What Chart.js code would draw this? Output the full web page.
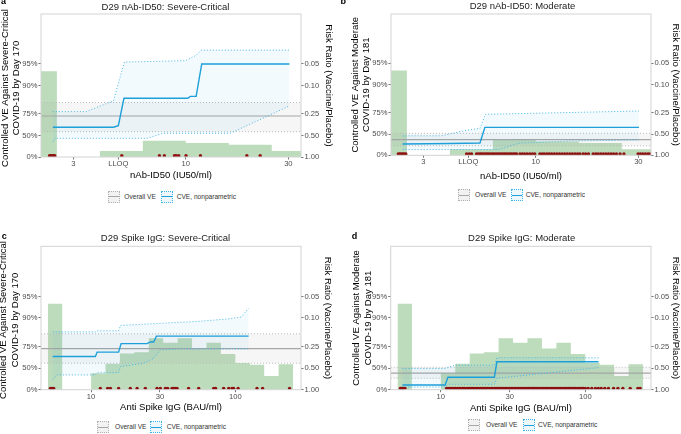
<!DOCTYPE html>
<html>
<head>
<meta charset="utf-8">
<script src="https://cdn.jsdelivr.net/npm/chart.js"></script>
<style>
html,body{margin:0;padding:0;background:#fff;}
body{width:681px;height:434px;position:relative;overflow:hidden;font-family:"Liberation Sans",Arial,sans-serif;}
canvas{position:absolute;}
.letter{position:absolute;font-weight:bold;font-size:9px;line-height:9px;color:#000;}
.ptitle{position:absolute;width:300px;text-align:center;font-size:9.5px;line-height:11px;color:#1a1a1a;}
.key{position:absolute;width:12px;height:12px;box-sizing:border-box;border:1px dotted;}
.key i{position:absolute;left:0;right:0;top:4.5px;height:1.2px;}
.ltxt{position:absolute;font-size:6.6px;line-height:8px;color:#333;white-space:nowrap;}
</style>
</head>
<body>
<script>
// ---------------- data ----------------
// y axis: VE (%) shown on a -log(1-VE) scale; right axis: risk ratio
const veTickValues = [0, 50, 75, 90, 95];
const veTickLabels = ['0%', '50%', '75%', '90%', '95%'];
const rrTickValues = [1, 0.5, 0.25, 0.1, 0.05];
const rrTickLabels = ['1.00', '0.50', '0.25', '0.10', '0.05'];
const veAxisTop = 99;            // upper axis limit (VE 99% = RR 0.01)

// x axes (log10 marker values)
const id50TickValues = [3, 4.8497, 10, 30];
const id50TickLabels = ['3', 'LLOQ', '10', '30'];
const id50AxisLog10 = [0.326, 1.536];
const iggTickValues = [10, 30, 100];
const iggTickLabels = ['10', '30', '100'];
const iggAxisLog10 = [0.653, 2.455];

// marker histograms (vaccine recipients), bin edges in log10 units, relative frequency
const id50HistEdges = [0.2, 0.4, 0.6, 0.8, 1.0, 1.2, 1.4, 1.6];
const id50HistFreq  = [0.611, 0, 0.043, 0.115, 0.100, 0.088, 0.043];
const iggHistEdges  = [0.7, 0.8, 0.9, 1.0, 1.1, 1.2, 1.3, 1.4, 1.5, 1.6, 1.7, 1.8, 1.9, 2.0, 2.1, 2.2, 2.3, 2.4];
const iggHistFreq   = [0.152, 0, 0, 0.029, 0.046, 0.064, 0.066, 0.091, 0.083, 0.091, 0.073, 0.083, 0.063, 0.047, 0.044, 0.024, 0.045];

// panel a: D29 nAb-ID50, Severe-Critical
const aCveX = [0.381, 0.663, 0.686, 0.712, 1.009, 1.021, 1.048, 1.074, 1.482];
const aCveVE = [61.6, 61.6, 63.5, 84.9, 84.9, 85.8, 85.8, 95.0, 95.0];
const aUpX = [0.381, 0.536, 0.614, 0.663, 0.714, 0.997, 1.047, 1.071, 1.482];
const aUpVE = [76.8, 76.8, 81.3, 83.5, 95.3, 95.5, 96.2, 96.8, 96.8];
const aLoX = [0.381, 0.392, 0.819, 0.896, 1.206, 1.268, 1.482];
const aLoVE = [38.3, 45.2, 45.2, 53.4, 53.4, 61.6, 80.7];
const aOverall = [73.3, 55.7, 82.7];   // estimate, lower, upper
const aCases = [0.366, 0.372, 0.378, 0.384, 0.39, 0.702, 0.877, 0.9, 0.947, 0.955, 0.967, 1.001, 1.068, 1.284, 1.346];

// panel b: D29 nAb-ID50, Moderate
const bCveX = [0.38, 0.60, 0.74, 0.763, 1.48];
const bCveVE = [30.8, 31.8, 33.0, 59.8, 59.8];
const bUpX = [0.38, 0.56, 0.66, 0.74, 0.765, 1.0, 1.48];
const bUpVE = [47.0, 47.0, 54.7, 58.5, 73.7, 74.6, 76.4];
const bLoX = [0.38, 0.83, 0.92, 1.15, 1.48];
const bLoVE = [17.2, 17.2, 32.4, 37.2, 39.2];
const bOverall = [40.0, 26.6, 51.2];
const bCases = [0.36, 0.367, 0.374, 0.381, 0.388, 0.395,
  0.678, 0.69, 0.701, 0.724, 0.733, 0.741, 0.749, 0.757, 0.766, 0.774, 0.782, 0.791, 0.8, 0.808, 0.817,
  0.826, 0.834, 0.843, 0.852, 0.86, 0.869, 0.878, 0.886, 0.895, 0.903, 0.91, 0.926, 0.937, 0.948, 0.96,
  0.972, 0.984, 0.995, 1.019, 1.03, 1.04, 1.052, 1.063, 1.074, 1.086, 1.098, 1.11, 1.122, 1.134, 1.146,
  1.158, 1.17, 1.182, 1.194, 1.205, 1.22, 1.232, 1.245, 1.267, 1.279, 1.29, 1.302, 1.314, 1.326, 1.338,
  1.35, 1.362, 1.375, 1.392, 1.41, 1.476, 1.487, 1.498, 1.51, 1.522, 1.532];

// panel c: D29 Spike IgG, Severe-Critical
const cCveX = [0.734, 1.030, 1.042, 1.191, 1.208, 1.388, 1.411, 1.434, 1.453, 2.092];
const cCveVE = [65.6, 65.6, 70.1, 70.1, 77.2, 77.2, 78.4, 78.4, 82.1, 82.1];
const cUpX = [0.734, 1.030, 1.042, 1.191, 1.204, 1.5, 1.73, 1.95, 2.04, 2.092];
const cUpVE = [84.4, 84.4, 84.9, 84.9, 87.3, 88.2, 88.8, 89.7, 90.3, 92.7];
const cLoX = [0.734, 0.765, 1.030, 1.042, 1.191, 1.204, 1.364, 1.434, 1.48, 1.62, 2.092];
const cLoVE = [28.0, 37.7, 37.7, 42.1, 42.1, 52.3, 57.2, 63.6, 72.1, 73.0, 73.0];
const cOverall = [73.2, 57.3, 83.4];
const cCases = [0.718, 0.73, 0.741, 1.064, 1.115, 1.134, 1.191, 1.272, 1.319, 1.376, 1.457, 1.48, 1.515,
  1.531, 1.561, 1.572, 1.584, 1.596, 1.676, 1.746, 1.85, 1.863, 1.919, 1.954, 1.977, 1.988, 2.019, 2.15,
  2.189, 2.376];

// panel d: D29 Spike IgG, Moderate
const dCveX = [0.734, 1.030, 1.049, 1.371, 1.388, 2.092];
const dCveVE = [14.0, 14.0, 33.1, 33.1, 59.2, 59.2];
const dUpX = [0.734, 1.030, 1.10, 1.371, 1.388, 2.092];
const dUpVE = [49.4, 49.4, 54.5, 54.5, 64.2, 64.2];
const dLoX = [0.734, 1.030, 1.049, 1.371, 1.388, 2.092];
const dLoVE = [8.0, 8.0, 16.0, 16.0, 30.7, 50.7];
const dOverall = [41.2, 30.7, 51.3];
const dCases = [0.72, 0.728, 0.736, 0.744, 0.752,
  1.04, 1.05, 1.062, 1.071, 1.083, 1.094, 1.103, 1.115, 1.126, 1.135, 1.147, 1.158, 1.166, 1.178, 1.189,
  1.198, 1.21, 1.221, 1.23, 1.242, 1.253, 1.262, 1.274, 1.285, 1.294, 1.306, 1.317, 1.326, 1.338, 1.349,
  1.358, 1.37, 1.381, 1.39, 1.402, 1.413, 1.422, 1.434, 1.445, 1.454, 1.466, 1.477, 1.486, 1.498, 1.509,
  1.518, 1.53, 1.541, 1.55, 1.562, 1.573, 1.582, 1.594, 1.605, 1.614, 1.626, 1.637, 1.646, 1.658, 1.669,
  1.678, 1.69, 1.701, 1.71, 1.722, 1.733, 1.742, 1.754, 1.765, 1.774, 1.786, 1.797, 1.806, 1.818, 1.829,
  1.838, 1.85, 1.861, 1.87, 1.882, 1.893, 1.902, 1.914, 1.925, 1.934, 1.946, 1.957, 1.966, 1.978, 1.989,
  2.0, 2.02, 2.045, 2.07, 2.09, 2.11, 2.135, 2.16, 2.196, 2.226, 2.26, 2.311, 2.364, 2.38];

const caseRugVE = 4;   // cases drawn as a rug just above 0%

// ---------------- helpers ----------------
Chart.defaults.font.family = '"Liberation Sans", Arial, sans-serif';
const FONT = '"Liberation Sans", Arial, sans-serif';
const tr = ve => -Math.log(1 - ve / 100);       // VE% -> -log(RR)
const BLUE = '#1d9fda';
const GRAY = '#a6a6a6';

const framePlugin = {
  id: 'frame',
  afterDatasetsDraw(chart) {
    const {ctx, chartArea: a} = chart;
    ctx.save();
    ctx.strokeStyle = '#d3d3d3';
    ctx.lineWidth = 1;
    ctx.strokeRect(a.left, a.top, a.right - a.left, a.bottom - a.top);
    ctx.restore();
  }
};

// left-axis two-line title (drawn without width squeezing)
const leftTitlePlugin = {
  id: 'leftTitle',
  afterDraw(chart, args, opts) {
    if (!opts || !opts.lines) return;
    const ctx = chart.ctx;
    ctx.save();
    ctx.translate(opts.x, opts.y);
    ctx.rotate(-Math.PI / 2);
    ctx.font = '9.5px ' + FONT;
    ctx.fillStyle = '#000';
    ctx.textAlign = 'center';
    ctx.textBaseline = 'middle';
    const lh = 11.4;
    opts.lines.forEach((t, i) => ctx.fillText(t, 0, (i - (opts.lines.length - 1) / 2) * lh));
    ctx.restore();
  }
};

function addText(cls, text, style) {
  const d = document.createElement('div');
  d.className = cls;
  d.innerHTML = text;
  Object.assign(d.style, style);
  document.body.appendChild(d);
  return d;
}

function buildPanel(p) {
  const cv = document.createElement('canvas');
  cv.width = p.rect.w; cv.height = p.rect.h;
  cv.style.left = p.rect.x + 'px'; cv.style.top = p.rect.y + 'px';
  cv.style.width = p.rect.w + 'px'; cv.style.height = p.rect.h + 'px';
  document.body.appendChild(cv);

  const pts = (xs, ves) => xs.map((x, i) => ({x, y: tr(ves[i])}));
  const hist = p.histFreq.map((f, i) => ({x: p.histEdges[i], y: f}));
  hist.push({x: p.histEdges[p.histEdges.length - 1], y: p.histFreq[p.histFreq.length - 1]});
  const xr = p.xLim;
  const flat = v => [{x: xr[0], y: tr(v)}, {x: xr[1], y: tr(v)}];

  const dotted = {pointRadius: 0, borderWidth: 1, borderDash: [1, 2], tension: 0};
  const datasets = [
    Object.assign({data: flat(p.overall[2]), borderColor: '#bdbdbd', fill: {target: 1, above: 'rgba(170,170,170,0.10)', below: 'rgba(170,170,170,0.10)'}, order: 6}, dotted),
    Object.assign({data: flat(p.overall[1]), borderColor: '#bdbdbd', fill: false, order: 6}, dotted),
    {data: flat(p.overall[0]), borderColor: GRAY, borderWidth: 1.2, pointRadius: 0, fill: false, order: 5},
    Object.assign({data: pts(p.upX, p.upVE), borderColor: '#45b6e6', fill: {target: 4, above: 'rgba(29,159,218,0.055)', below: 'rgba(29,159,218,0.055)'}, order: 4}, dotted),
    Object.assign({data: pts(p.loX, p.loVE), borderColor: '#45b6e6', fill: false, order: 4}, dotted),
    {data: pts(p.cveX, p.cveVE), borderColor: BLUE, borderWidth: 1.4, pointRadius: 0, fill: false, tension: 0, order: 3},
    {data: p.cases.map(x => ({x, y: tr(caseRugVE)})), showLine: false, pointRadius: 1.7, pointBorderWidth: 0,
     pointBackgroundColor: '#8e0f0f', order: 1},
    {data: hist, yAxisID: 'yh', stepped: true, borderWidth: 0, pointRadius: 0, fill: 'origin',
     backgroundColor: 'rgba(34,139,34,0.3)', borderColor: 'rgba(0,0,0,0)', order: 10}
  ];

  const tickFont = {family: FONT, size: 7.6, lineHeight: 1};
  const tickGrid = {drawOnChartArea: false, drawTicks: true, tickLength: 2.5, color: '#555', lineWidth: 0.8};

  new Chart(cv, {
    type: 'line',
    data: {datasets},
    options: {
      responsive: false, animation: false, devicePixelRatio: 1,
      layout: {padding: {left: 0, right: 0, top: p.padTop, bottom: 0}},
      plugins: {
        legend: {display: false}, tooltip: {enabled: false}, title: {display: false},
        leftTitle: {lines: p.yTitle, x: p.yTitleC[0] - p.rect.x, y: p.yTitleC[1] - p.rect.y}
      },
      scales: {
        x: {
          type: 'linear', position: 'bottom', min: xr[0], max: xr[1], offset: false,
          afterFit: s => { s.height = p.HX; },
          afterBuildTicks: s => { s.ticks = p.xTicks.map(v => ({value: Math.log10(v)})); },
          ticks: {autoSkip: false, maxRotation: 0, padding: 0.5, font: tickFont, color: '#4d4d4d',
                  callback: (v, i) => p.xTickLabels[i]},
          grid: tickGrid, border: {display: false},
          title: {display: true, text: p.xTitle, color: '#000', font: {family: FONT, size: 9.5, lineHeight: 1.2},
                  padding: {top: 0, bottom: p.xTitlePad}}
        },
        y: {
          type: 'linear', position: 'left', min: 0, max: tr(veAxisTop),
          afterFit: s => { s.width = p.WL; },
          afterBuildTicks: s => { s.ticks = veTickValues.map(v => ({value: tr(v)})); },
          ticks: {padding: 1, font: tickFont, color: '#4d4d4d', callback: (v, i) => veTickLabels[i]},
          grid: tickGrid, border: {display: false}
        },
        yR: {
          type: 'linear', position: 'right', min: 0, max: tr(veAxisTop),
          afterFit: s => { s.width = p.WR; },
          afterBuildTicks: s => { s.ticks = rrTickValues.map(r => ({value: -Math.log(r)})); },
          ticks: {padding: 1, font: tickFont, color: '#4d4d4d', callback: (v, i) => rrTickLabels[i]},
          grid: tickGrid, border: {display: false},
          title: {display: true, text: 'Risk Ratio (Vaccine/Placebo)', color: '#000',
                  font: {family: FONT, size: 9.5, lineHeight: 1.2}, padding: {top: p.rTitlePad, bottom: 0}}
        },
        yh: {type: 'linear', display: false, min: 0, max: Math.max(...p.histFreq) / 0.6}
      }
    },
    plugins: [framePlugin, leftTitlePlugin]
  });

  // panel letter, title, legend
  addText('letter', p.id, {left: p.letter[0] + 'px', top: p.letter[1] + 'px'});
  addText('ptitle', p.title, {left: (p.titleC[0] - 150) + 'px', top: (p.titleC[1] - 5.5) + 'px'});
  const L = p.legend;
  const k1 = addText('key', '<i></i>', {left: L.k1 + 'px', top: (L.cy - 6) + 'px', borderColor: '#b0b0b0', background: '#f2f2f2'});
  k1.firstChild.style.background = GRAY;
  addText('ltxt', 'Overall VE', {left: L.t1 + 'px', top: (L.cy - 4) + 'px'});
  const k2 = addText('key', '<i></i>', {left: L.k2 + 'px', top: (L.cy - 6) + 'px', borderColor: '#3fb4e6', background: '#eef7fc'});
  k2.firstChild.style.background = BLUE;
  addText('ltxt', 'CVE, nonparametric', {left: L.t2 + 'px', top: (L.cy - 4) + 'px'});
}

const sevTitle = ['Controlled VE Against Severe-Critical', 'COVID-19 by Day 170'];
const modTitle = ['Controlled VE Against Moderate', 'COVID-19 by Day 181'];

buildPanel({id: 'a', title: 'D29 nAb-ID50: Severe-Critical', yTitle: sevTitle, xTitle: 'nAb-ID50 (IU50/ml)',
  rect: {x: 0, y: 0, w: 340, h: 186}, padTop: 14, WL: 41, WR: 39, HX: 29, xTitlePad: 4.6, rTitlePad: 5.3,
  xLim: id50AxisLog10, xTicks: id50TickValues, xTickLabels: id50TickLabels, histEdges: id50HistEdges, histFreq: id50HistFreq,
  cveX: aCveX, cveVE: aCveVE, upX: aUpX, upVE: aUpVE, loX: aLoX, loVE: aLoVE, overall: aOverall, cases: aCases,
  letter: [1, -2.6], titleC: [165.5, 6], yTitleC: [10.8, 88],
  legend: {cy: 196.7, k1: 108, t1: 124.3, k2: 161, t2: 176.7}});

buildPanel({id: 'b', title: 'D29 nAb-ID50: Moderate', yTitle: modTitle, xTitle: 'nAb-ID50 (IU50/ml)',
  rect: {x: 340, y: 0, w: 341, h: 186}, padTop: 14, WL: 51, WR: 30, HX: 30.7, xTitlePad: 3.6, rTitlePad: 0,
  xLim: id50AxisLog10, xTicks: id50TickValues, xTickLabels: id50TickLabels, histEdges: id50HistEdges, histFreq: id50HistFreq,
  cveX: bCveX, cveVE: bCveVE, upX: bUpX, upVE: bUpVE, loX: bLoX, loVE: bLoVE, overall: bOverall, cases: bCases,
  letter: [340.5, -2.6], titleC: [522.5, 5.5], yTitleC: [360.8, 84.7],
  legend: {cy: 195, k1: 458.3, t1: 475, k2: 510.7, t2: 525.7}});

buildPanel({id: 'c', title: 'D29 Spike IgG: Severe-Critical', yTitle: sevTitle, xTitle: 'Anti Spike IgG (BAU/ml)',
  rect: {x: 0, y: 217, w: 340, h: 201}, padTop: 29.3, WL: 41, WR: 39, HX: 28.3, xTitlePad: 5.3, rTitlePad: 6.8,
  xLim: iggAxisLog10, xTicks: iggTickValues, xTickLabels: iggTickLabels, histEdges: iggHistEdges, histFreq: iggHistFreq,
  cveX: cCveX, cveVE: cCveVE, upX: cUpX, upVE: cUpVE, loX: cLoX, loVE: cLoVE, overall: cOverall, cases: cCases,
  letter: [1.7, 232.4], titleC: [165.5, 237], yTitleC: [9.5, 320],
  legend: {cy: 427, k1: 96.7, t1: 115, k2: 150, t2: 166.7}});

buildPanel({id: 'd', title: 'D29 Spike IgG: Moderate', yTitle: modTitle, xTitle: 'Anti Spike IgG (BAU/ml)',
  rect: {x: 340, y: 217, w: 341, h: 201}, padTop: 29.3, WL: 50.7, WR: 30, HX: 28.3, xTitlePad: 4.3, rTitlePad: 0,
  xLim: iggAxisLog10, xTicks: iggTickValues, xTickLabels: iggTickLabels, histEdges: iggHistEdges, histFreq: iggHistFreq,
  cveX: dCveX, cveVE: dCveVE, upX: dUpX, upVE: dUpVE, loX: dLoX, loVE: dLoVE, overall: dOverall, cases: dCases,
  letter: [351.7, 232.4], titleC: [521.7, 237], yTitleC: [362.4, 318],
  legend: {cy: 425.3, k1: 468, t1: 486, k2: 522.7, t2: 538}});
</script>
</body>
</html>
